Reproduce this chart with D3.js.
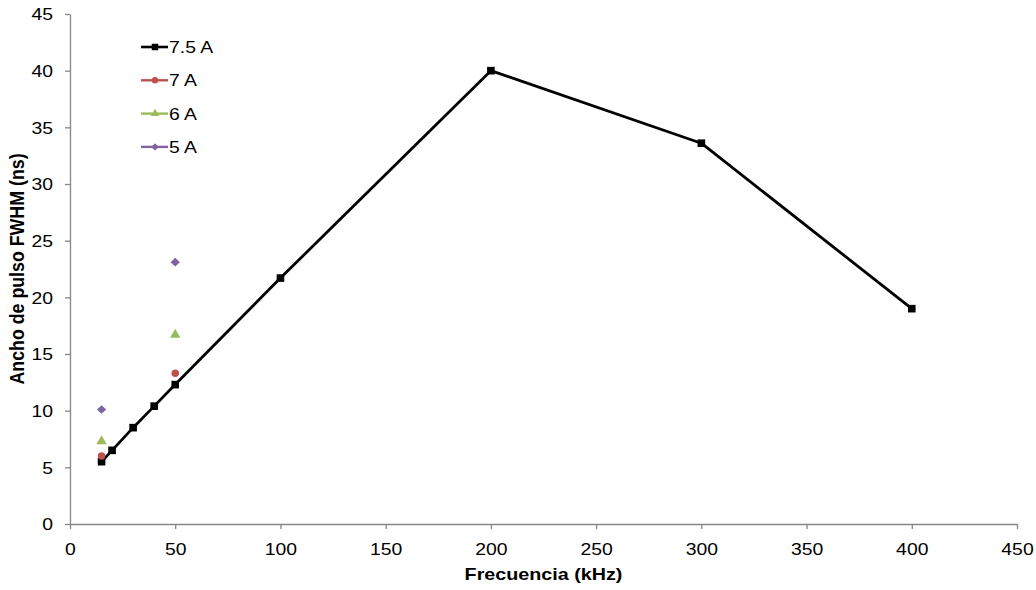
<!DOCTYPE html>
<html>
<head>
<meta charset="utf-8">
<script src="https://cdn.jsdelivr.net/npm/d3@7"></script>
<style>
  html, body { margin: 0; padding: 0; background: #fff; }
  svg { display: block; font-family: "Liberation Sans", Arial, sans-serif; }
</style>
</head>
<body>
<svg id="chart" width="1036" height="590"></svg>
<script>
// Frequency (kHz) and FWHM pulse width (ns) for each pump current
const freq75 = [15, 20, 30, 40, 50, 100, 200, 300, 400];
const fwhm75 = [5.5, 6.5, 8.5, 10.4, 12.3, 21.7, 40.0, 33.6, 19.0];
const freq7 = [15, 50];
const fwhm7 = [6.0, 13.3];
const freq6 = [15, 50];
const fwhm6 = [7.3, 16.7];
const freq5 = [15, 50];
const fwhm5 = [10.1, 23.1];

const seriesNames = ["7.5 A", "7 A", "6 A", "5 A"];
const seriesColors = ["#000000", "#C0504D", "#9BBB59", "#8064A2"];
const xTicks = [0, 50, 100, 150, 200, 250, 300, 350, 400, 450];
const yTicks = [0, 5, 10, 15, 20, 25, 30, 35, 40, 45];

const svg = d3.select("#chart");
const plotLeft = 70, plotRight = 1017, plotTop = 14, plotBottom = 524;
const fontSize = 17;
const stretch = 1.14;   // slightly wide glyphs

const x = d3.scaleLinear().domain([0, 450]).range([plotLeft, plotRight]);
const y = d3.scaleLinear().domain([0, 45]).range([plotBottom, plotTop]);

const axisColor = "#868686";

// X axis
const gx = svg.append("g").attr("transform", `translate(0,${plotBottom})`)
  .call(d3.axisBottom(x).tickValues(xTicks).tickSize(5).tickSizeOuter(0));
// Y axis
const gy = svg.append("g").attr("transform", `translate(${plotLeft},0)`)
  .call(d3.axisLeft(y).tickValues(yTicks).tickSize(5).tickSizeOuter(0));

[gx, gy].forEach(g => {
  g.select(".domain").attr("stroke", axisColor).attr("stroke-width", 1.3);
  g.selectAll(".tick line").attr("stroke", axisColor).attr("stroke-width", 1.3);
  g.selectAll(".tick text").attr("fill", "#000").style("font-size", fontSize + "px")
    .style("font-family", "'Liberation Sans', Arial, sans-serif");
});
gx.selectAll(".tick text")
  .attr("x", 0).attr("y", 0).attr("dy", "0.71em")
  .attr("transform", `translate(0,19) scale(${stretch},1)`);
gy.selectAll(".tick text")
  .attr("x", 0).attr("y", 0).attr("dy", "0.35em")
  .attr("transform", `translate(-17,0) scale(${stretch},1)`);

// Axis titles
svg.append("text")
  .attr("transform", `translate(${(plotLeft + plotRight) / 2},580) scale(1.16,1)`)
  .attr("text-anchor", "middle")
  .style("font-size", fontSize + "px").style("font-weight", "bold")
  .text("Frecuencia (kHz)");

svg.append("text")
  .attr("transform", `translate(24,${(plotTop + plotBottom) / 2}) scale(1.12,1) rotate(-90)`)
  .attr("text-anchor", "middle")
  .style("font-size", "17.8px").style("font-weight", "bold")
  .text("Ancho de pulso FWHM (ns)");

// Marker shapes per series
const diamondShape = {
  draw(ctx, size) {
    const w = Math.sqrt(size) * 0.62, h = Math.sqrt(size) * 0.58;
    ctx.moveTo(0, -h); ctx.lineTo(w, 0); ctx.lineTo(0, h); ctx.lineTo(-w, 0); ctx.closePath();
  }
};
const symbols = [
  d3.symbol().type(d3.symbolSquare).size(58),
  d3.symbol().type(d3.symbolCircle).size(44),
  d3.symbol().type(d3.symbolTriangle).size(46),
  d3.symbol().type(diamondShape).size(56)
];

// 7.5 A line
const pts75 = freq75.map((f, i) => [f, fwhm75[i]]);
svg.append("path")
  .datum(pts75)
  .attr("fill", "none")
  .attr("stroke", seriesColors[0])
  .attr("stroke-width", 2.8)
  .attr("stroke-linejoin", "round")
  .attr("d", d3.line().x(d => x(d[0])).y(d => y(d[1])));

const markerSets = [
  pts75,
  freq7.map((f, i) => [f, fwhm7[i]]),
  freq6.map((f, i) => [f, fwhm6[i]]),
  freq5.map((f, i) => [f, fwhm5[i]])
];

markerSets.forEach((pts, s) => {
  svg.append("g").selectAll("path")
    .data(pts)
    .join("path")
    .attr("transform", d => `translate(${x(d[0])},${y(d[1])})`)
    .attr("d", symbols[s]())
    .attr("fill", seriesColors[s]);
});

// Legend
const legendSymbols = [
  d3.symbol().type(d3.symbolSquare).size(42),
  d3.symbol().type(d3.symbolCircle).size(32),
  d3.symbol().type(d3.symbolTriangle).size(32),
  d3.symbol().type(diamondShape).size(38)
];
const legend = svg.append("g").attr("transform", "translate(141,47)");
seriesNames.forEach((name, i) => {
  const row = legend.append("g").attr("transform", `translate(0,${i * 33.3})`);
  row.append("line").attr("x1", 0).attr("x2", 27).attr("y1", 0).attr("y2", 0)
    .attr("stroke", seriesColors[i]).attr("stroke-width", i === 0 ? 2.6 : 2.4);
  row.append("path").attr("transform", "translate(14,0)")
    .attr("d", legendSymbols[i]()).attr("fill", seriesColors[i]);
  row.append("text").attr("transform", `translate(28,6) scale(${stretch},1)`)
    .style("font-size", fontSize + "px").text(name);
});
</script>
</body>
</html>
